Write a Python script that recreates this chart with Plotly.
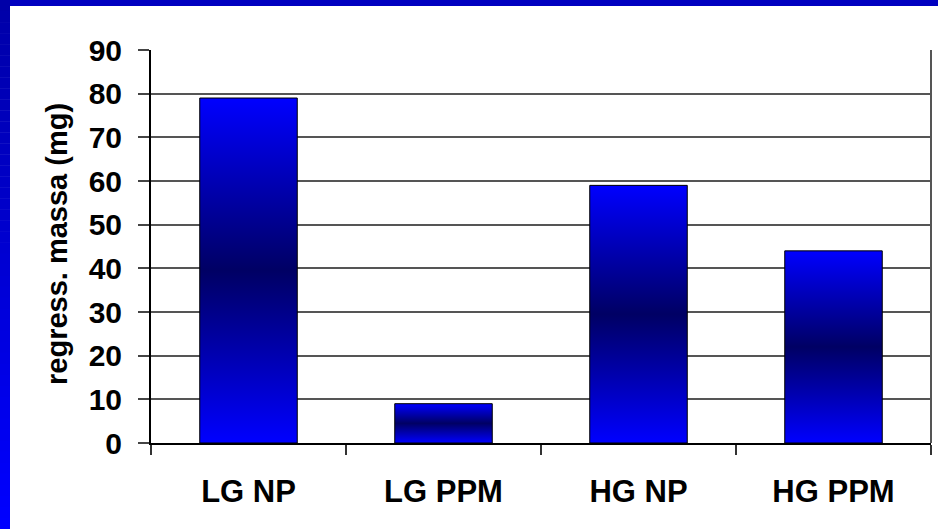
import plotly.graph_objects as go

# Data
categories = ["LG NP", "LG PPM", "HG NP", "HG PPM"]
regress_massa = [79, 9, 59, 44]
y_ticks = [0, 10, 20, 30, 40, 50, 60, 70, 80, 90]

W, H = 938, 529
ML, MR, MT, MB = 151, 7, 50, 86
PW, PH = W - ML - MR, H - MT - MB

BAR_W = 0.5
FONT = "Liberation Sans"
bar_scale = [[0.0, "#0000ff"], [0.5, "#000064"], [1.0, "#0000ff"]]

fig = go.Figure()

for i, (cat, v) in enumerate(zip(categories, regress_massa)):
    x0, x1 = i - BAR_W / 2, i + BAR_W / 2
    fig.add_trace(go.Scatter(
        x=[x0, x0, x1, x1, x0],
        y=[0, v, v, 0, 0],
        mode="lines",
        fill="toself",
        fillgradient=dict(type="vertical", colorscale=bar_scale, start=0, stop=v),
        line=dict(color="black", width=1),
        name=cat,
        hoverinfo="skip",
        showlegend=False,
    ))


def px_x(p):
    return (p - ML) / PW


def px_y(p):
    return 1 - (p - MT) / PH


shapes = []
# right edge of plot frame
shapes.append(dict(type="line", xref="paper", yref="paper", x0=1, x1=1, y0=0, y1=1,
                   line=dict(color="#555555", width=2)))
# blue slide frame: top band
shapes.append(dict(type="rect", xref="paper", yref="paper", layer="above",
                   x0=px_x(0), x1=px_x(W), y0=px_y(6), y1=px_y(0),
                   fillcolor="#0000c0", line=dict(width=0)))
# blue slide frame: left band, dark at top fading to bright blue
n = 48
for k in range(n):
    t = k / (n - 1)
    b = int(round(168 + (255 - 168) * t))
    shapes.append(dict(type="rect", xref="paper", yref="paper", layer="above",
                       x0=px_x(0), x1=px_x(10),
                       y0=px_y(H * (k + 1) / n + 0.5), y1=px_y(H * k / n),
                       fillcolor=f"rgb(0,0,{b})", line=dict(width=0)))

fig.update_layout(
    width=W, height=H,
    margin=dict(l=ML, r=MR, t=MT, b=MB, pad=0),
    paper_bgcolor="white", plot_bgcolor="white",
    shapes=shapes,
    xaxis=dict(
        range=[-0.5, 3.5], tickmode="array", tickvals=list(range(len(categories))),
        ticktext=categories, ticks="outside", ticklen=0, tickcolor="rgba(0,0,0,0)",
        ticklabelstandoff=20,
        tickfont=dict(family=FONT, size=31, color="black", weight="bold"),
        showgrid=False, zeroline=False, showline=True, linecolor="black", linewidth=2,
        minor=dict(tickmode="array", tickvals=[-0.5, 0.5, 1.5, 2.5, 3.5], ticks="outside",
                   ticklen=10, tickwidth=1.5, tickcolor="#333333", showgrid=False),
        fixedrange=True,
    ),
    yaxis=dict(
        range=[0, 90], tickmode="array", tickvals=y_ticks,
        ticks="outside", ticklen=11, tickwidth=1.5, tickcolor="#444444",
        ticklabelstandoff=10,
        tickfont=dict(family=FONT, size=30, color="black", weight="bold"),
        showgrid=True, gridcolor="#555555", gridwidth=2,
        zeroline=False, showline=True, linecolor="black", linewidth=2,
        fixedrange=True,
    ),
    annotations=[dict(
        text="regress. massa (mg)", textangle=-90, showarrow=False,
        xref="paper", yref="paper", x=px_x(57), y=px_y(244),
        xanchor="center", yanchor="middle",
        font=dict(family=FONT, size=29, color="black", weight="bold"),
    )],
)

fig.write_html("out.html")
